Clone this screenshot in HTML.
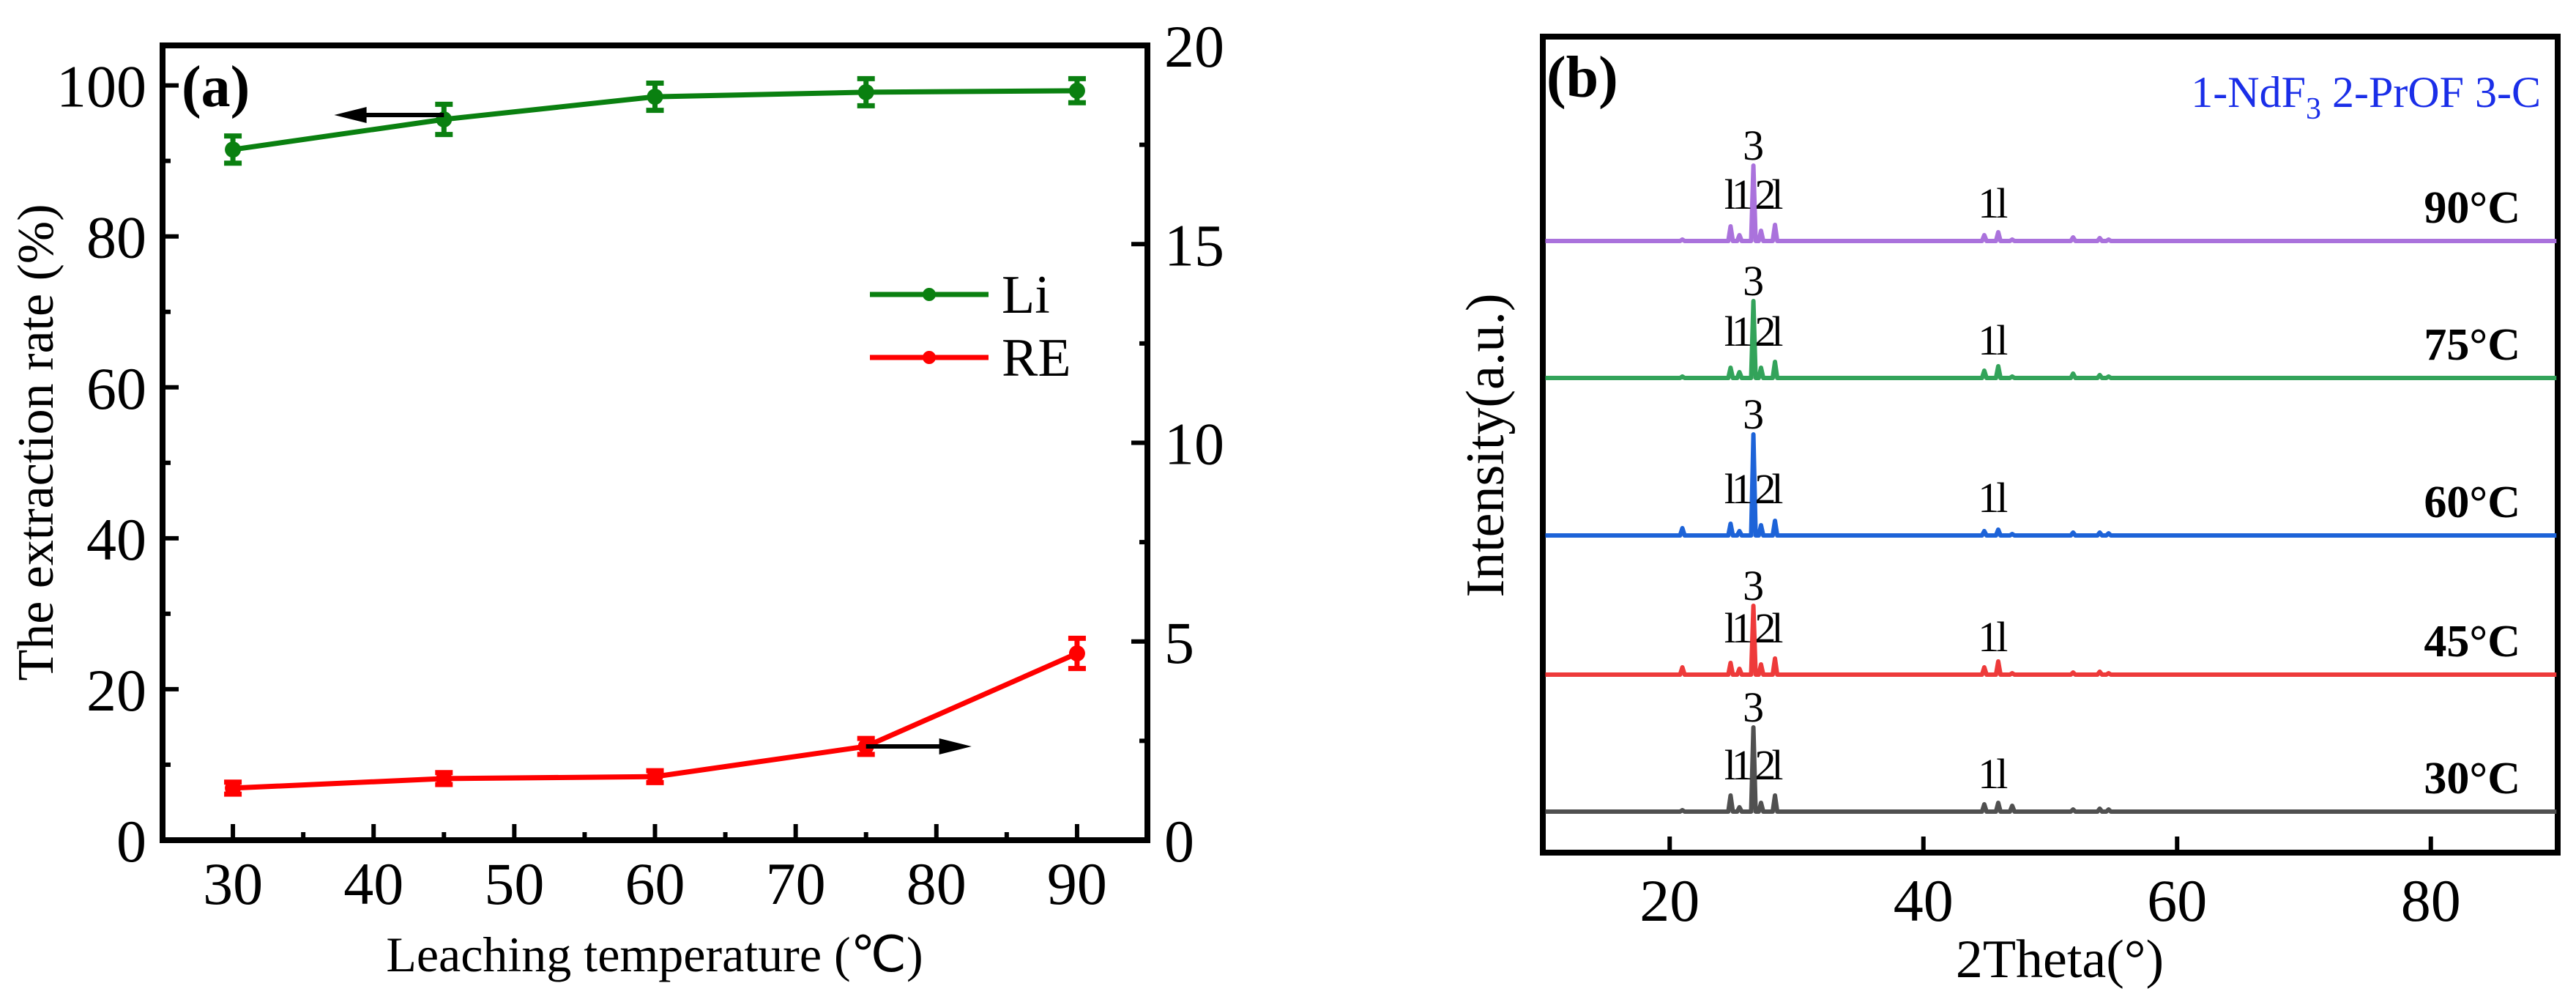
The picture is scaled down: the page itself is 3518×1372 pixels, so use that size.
<!DOCTYPE html>
<html><head><meta charset="utf-8"><style>
html,body{margin:0;padding:0;background:#fff;}
svg{display:block;font-family:"Liberation Serif",serif;}
</style></head><body>
<svg id="fig" width="3518" height="1372" viewBox="0 0 3518 1372" xmlns="http://www.w3.org/2000/svg">
<g id="pa"></g>
<g id="pb"></g>
</svg>
<script>
// ---------- Panel (a) data ----------
const temps = [30, 45, 60, 75, 90];
const liValues = [91.5, 95.5, 98.5, 99.1, 99.3];
const liErrors = [1.8, 2.0, 1.8, 1.8, 1.6];
const reValues = [1.31, 1.55, 1.6, 2.36, 4.7];
const reErrors = [0.15, 0.15, 0.15, 0.2, 0.38];
const xTicksA = [30, 40, 50, 60, 70, 80, 90];
const yLeftTicks = [0, 20, 40, 60, 80, 100];
const yRightTicks = [0, 5, 10, 15, 20];

// ---------- Panel (b) data ----------
const sampleLabels = ['30°C', '45°C', '60°C', '75°C', '90°C'];
const peakPositions = [21.0, 24.8, 25.5, 26.6, 27.2, 28.3, 44.8, 45.9, 47.0, 51.8, 53.9, 54.6];
const peaks30 = [2, 22, 6, 115, 12, 22, 10, 12, 8, 3, 4, 3];
const peaks45 = [10, 16, 8, 94, 14, 22, 10, 18, 2, 3, 4, 2];
const peaks60 = [10, 16, 6, 138, 14, 20, 6, 8, 2, 4, 4, 3];
const peaks75 = [2, 14, 8, 105, 14, 22, 10, 16, 2, 6, 4, 2];
const peaks90 = [2, 20, 8, 103, 14, 22, 8, 12, 2, 5, 4, 2];

const NS = 'http://www.w3.org/2000/svg';
function mk(parent, tag, attrs, text) {
  const e = document.createElementNS(NS, tag);
  for (const k in attrs) e.setAttribute(k, attrs[k]);
  if (text !== undefined) e.textContent = text;
  parent.appendChild(e);
  return e;
}

// ---------- Panel (a) ----------
(function () {
  const g = document.getElementById('pa');
  const L = 222, R = 1567, T = 62, B = 1147;
  const xA = v => L + (v - 25) / 70 * (R - L);
  const yL = v => B - v / 105.3 * (B - T);
  const yR = v => B - v / 20 * (B - T);

  for (let v = 30; v <= 90; v += 5) {
    const major = v % 10 === 0;
    const t = mk(g, 'line', {x1: xA(v), x2: xA(v), y1: B, y2: B - (major ? 22 : 11), stroke: '#000', 'stroke-width': 6});
    
    
  }
  for (let v = 10; v <= 100; v += 10) {
    const major = v % 20 === 0;
    const t = mk(g, 'line', {x1: L, x2: L + (major ? 22 : 11), y1: yL(v), y2: yL(v), stroke: '#000', 'stroke-width': 6});
    
    
  }
  for (let v = 2.5; v < 20; v += 2.5) {
    const major = v % 5 === 0;
    const t = mk(g, 'line', {x1: R, x2: R - (major ? 22 : 11), y1: yR(v), y2: yR(v), stroke: '#000', 'stroke-width': 6});
    
    
  }
  const fr = mk(g, 'rect', {x: L, y: T, width: R - L, height: B - T, fill: 'none', stroke: '#000', 'stroke-width': 8});
  
  

  xTicksA.forEach(v => {
    const t = mk(g, 'text', {x: xA(v), y: 1234, 'font-size': 82, 'text-anchor': 'middle'}, v);
    
    
  });
  yLeftTicks.forEach(v => {
    const t = mk(g, 'text', {x: 200, y: yL(v) + 29, 'font-size': 82, 'text-anchor': 'end'}, v);
    
    
  });
  yRightTicks.forEach(v => {
    const t = mk(g, 'text', {x: 1590, y: yR(v) + 29, 'font-size': 82, 'text-anchor': 'start'}, v);
    
    
  });
  const xt = mk(g, 'text', {x: 894, y: 1326, 'font-size': 68, 'text-anchor': 'middle'}, 'Leaching temperature (℃)');
  
  
  const yt = mk(g, 'text', {x: 0, y: 0, 'font-size': 70, 'text-anchor': 'middle', transform: 'translate(72,604) rotate(-90)'}, 'The extraction rate (%)');
  
  
  const pl = mk(g, 'text', {x: 248, y: 145, 'font-size': 80, 'font-weight': 'bold'}, '(a)');
  
  

  function series(vals, errs, yf, color, name) {
    const pts = temps.map((t, i) => xA(t) + ',' + yf(vals[i])).join(' ');
    const pline = mk(g, 'polyline', {points: pts, fill: 'none', stroke: color, 'stroke-width': 7});
    
    
    temps.forEach((t, i) => {
      const x = xA(t), y1 = yf(vals[i] + errs[i]), y2 = yf(vals[i] - errs[i]);
      const eb = mk(g, 'path', {d: `M${x},${y1}V${y2}M${x - 12},${y1}H${x + 12}M${x - 12},${y2}H${x + 12}`, stroke: color, 'stroke-width': 7, fill: 'none'});
      
      
      const c = mk(g, 'circle', {cx: x, cy: yf(vals[i]), r: 11, fill: color});
      
      
    });
  }
  series(liValues, liErrors, yL, '#0a8010', 'li');
  series(reValues, reErrors, yR, '#ff0000', 're');

  const ar1 = mk(g, 'path', {d: `M${xA(45)},${157}H${xA(38.5)}`, stroke: '#000', 'stroke-width': 6});
  
  
  mk(g, 'polygon', {points: `${xA(37.2)},157 ${xA(39.5)},146 ${xA(39.5)},168`, fill: '#000'});
  const ar2 = mk(g, 'path', {d: `M${xA(75)},${yR(reValues[3])}H${xA(81)}`, stroke: '#000', 'stroke-width': 6});
  
  
  mk(g, 'polygon', {points: `${xA(82.5)},${yR(reValues[3])} ${xA(80.2)},${yR(reValues[3]) - 11} ${xA(80.2)},${yR(reValues[3]) + 11}`, fill: '#000'});

  const lg = mk(g, 'g', {});
  
  
  [['Li', '#0a8010', 402], ['RE', '#ff0000', 488]].forEach(([lab, col, y]) => {
    const e = mk(lg, 'g', {});
    
    
    mk(e, 'line', {x1: 1188, x2: 1350, y1: y, y2: y, stroke: col, 'stroke-width': 7});
    mk(e, 'circle', {cx: 1269, cy: y, r: 9, fill: col});
    mk(e, 'text', {x: 1368, y: y + 25, 'font-size': 74}, lab);
  });
})();

// ---------- Panel (b) ----------
(function () {
  const g = document.getElementById('pb');
  const L = 2107, R = 3493, T = 50, B = 1164;
  const xB = v => L + (v - 10) / 80 * (R - L);
  const baselines = [1108, 921, 731, 516, 329];
  const colors = ['#505050', '#ee3a3a', '#1d63d8', '#33a35a', '#aa72dc'];
  const allPeaks = [peaks30, peaks45, peaks60, peaks75, peaks90];

  const fr = mk(g, 'rect', {x: L, y: T, width: R - L, height: B - T, fill: 'none', stroke: '#000', 'stroke-width': 8});
  
  
  [20, 40, 60, 80].forEach(v => {
    const t = mk(g, 'line', {x1: xB(v), x2: xB(v), y1: B, y2: B - 22, stroke: '#000', 'stroke-width': 6});
    
    
    const l = mk(g, 'text', {x: xB(v), y: 1257, 'font-size': 82, 'text-anchor': 'middle'}, v);
    
    
  });

  allPeaks.forEach((pk, si) => {
    const base = baselines[si];
    let d = `M${xB(10.2)},${base}`;
    const order = peakPositions.map((p, i) => i).sort((a, b) => peakPositions[a] - peakPositions[b]);
    order.forEach(i => {
      const p = peakPositions[i], h = pk[i];
      d += `L${xB(p - 0.18)},${base}L${xB(p)},${base - h}L${xB(p + 0.18)},${base}`;
    });
    d += `L${xB(89.9)},${base}`;
    const s = mk(g, 'path', {d: d, fill: 'none', stroke: colors[si], 'stroke-width': 6, 'stroke-linejoin': 'round'});
    
    
    const tl = mk(g, 'text', {x: 3442, y: base - 25, 'font-size': 62, 'font-weight': 'bold', 'text-anchor': 'end'}, sampleLabels[si]);
    
    
    const top = base - pk[3];
    const p3 = mk(g, 'text', {x: xB(26.6), y: top - 8, 'font-size': 58, 'text-anchor': 'middle'}, '3');
    
    
    const pc = mk(g, 'text', {x: xB(24.3), y: base - 44, 'font-size': 58, 'letter-spacing': '-6'}, 'l1 2l');
    
    
    const p45 = mk(g, 'text', {x: xB(44.3), y: base - 32, 'font-size': 58, 'letter-spacing': '-4'}, '1l');
    
    
  });

  const lt = mk(g, 'text', {x: 3470, y: 146, 'font-size': 60, fill: '#1a2ee8', 'text-anchor': 'end'});
  
  
  mk(lt, 'tspan', {}, '1-NdF');
  mk(lt, 'tspan', {dy: 16, 'font-size': 42}, '3');
  mk(lt, 'tspan', {dy: -16}, ' 2-PrOF 3-C');

  const pl = mk(g, 'text', {x: 2112, y: 132, 'font-size': 80, 'font-weight': 'bold'}, '(b)');
  
  
  const xt = mk(g, 'text', {x: 2813, y: 1334, 'font-size': 74, 'text-anchor': 'middle'}, '2Theta(°)');
  
  
  const yt = mk(g, 'text', {x: 0, y: 0, 'font-size': 74, 'text-anchor': 'middle', transform: 'translate(2053,608) rotate(-90)'}, 'Intensity(a.u.)');
  
  
})();
</script>
</body></html>
